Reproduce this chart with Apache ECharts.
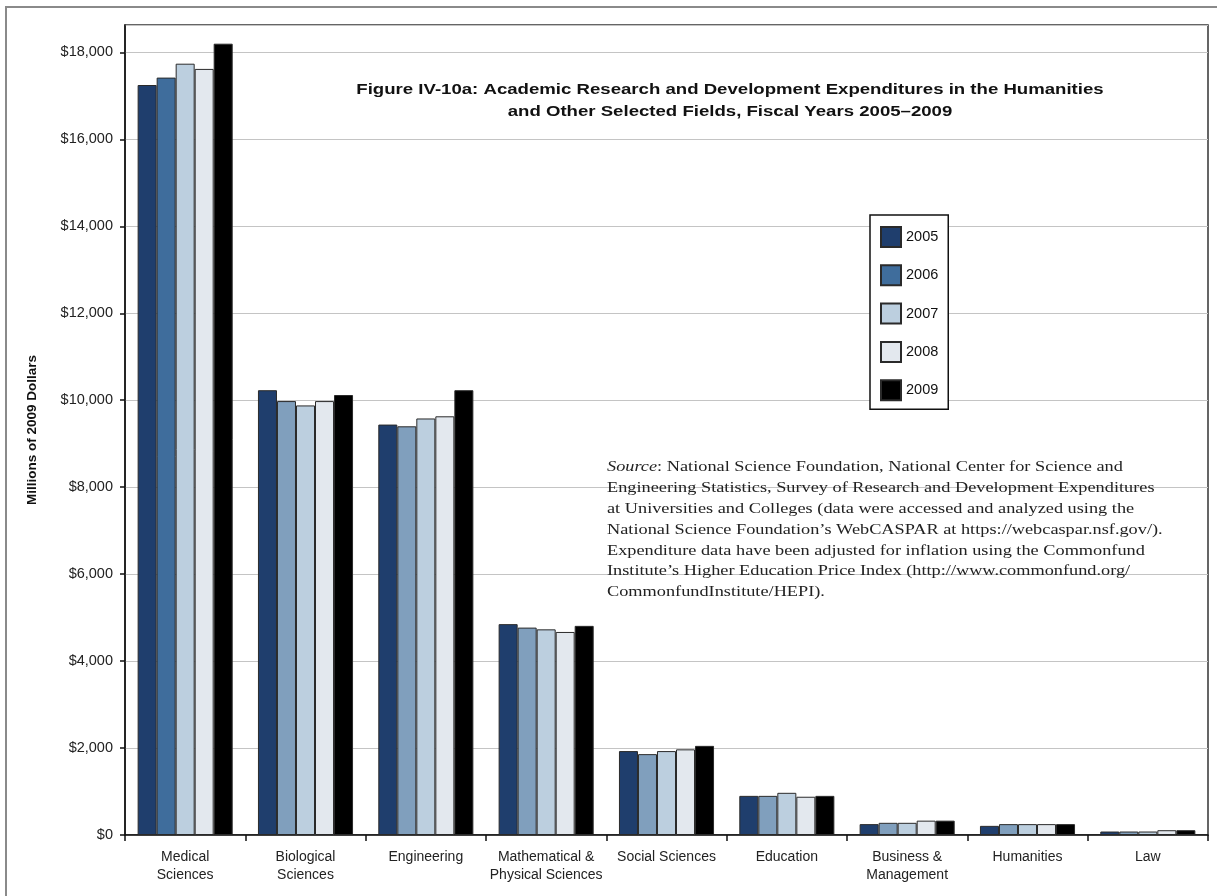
<!DOCTYPE html>
<html>
<head>
<meta charset="utf-8">
<script src="https://cdn.jsdelivr.net/npm/echarts@6/dist/echarts.min.js"></script>
<style>html,body{margin:0;padding:0;background:#fff;}#c{width:1217px;height:896px;}</style>
</head>
<body>
<div id="c"></div>
<script>
const categories = ['Medical\nSciences','Biological\nSciences','Engineering','Mathematical &\nPhysical Sciences','Social Sciences','Education','Business &\nManagement','Humanities','Law'];
const years = ['2005','2006','2007','2008','2009'];
const v2005 = [17250, 10230, 9440, 4850, 1930, 900, 250, 210, 80];
const v2006 = [17420, 9980, 9400, 4770, 1860, 900, 280, 250, 80];
const v2007 = [17740, 9880, 9580, 4730, 1930, 970, 280, 250, 80];
const v2008 = [17620, 9980, 9630, 4670, 1970, 880, 330, 250, 110];
const v2009 = [18200, 10120, 10230, 4810, 2050, 900, 330, 250, 110];
const colors = ['#1f3e6d', '#3f6d9c', '#bccfdf', '#e3e8ee', '#000000'];
const otherColor2006 = '#809fbd';

const seriesData = [v2005, v2006, v2007, v2008, v2009];
const series = seriesData.map((d, i) => ({
  name: years[i],
  type: 'bar',
  barGap: '0%',
  barCategoryGap: '21%',
  itemStyle: { color: colors[i], borderColor: '#2a2a2a', borderWidth: 1 },
  data: i === 1 ? d.map((v, j) => j === 0 ? v : { value: v, itemStyle: { color: otherColor2006 } }) : d
}));

const chart = echarts.init(document.getElementById('c'));
chart.setOption({
  animation: false,
  backgroundColor: '#fff',
  grid: { left: 125, right: 9, top: 25, bottom: 61, show: true, borderColor: '#333', borderWidth: 1.5, containLabel: false },
  legend: {
    orient: 'vertical', left: 870, top: 215,
    itemWidth: 20, itemHeight: 20, itemGap: 16.3,
    padding: [11, 10, 8, 10],
    borderColor: '#111', borderWidth: 1.5,
    backgroundColor: '#fff',
    textStyle: { fontFamily: 'Liberation Sans, Arial', fontSize: 14.5, color: '#111' },
    data: years.map(y => ({ name: y, icon: 'rect' }))
  },
  xAxis: {
    type: 'category', data: categories,
    axisLine: { lineStyle: { color: '#111', width: 1.5 } },
    axisTick: { show: true, length: 6, lineStyle: { color: '#111', width: 1.5 } },
    axisLabel: { fontFamily: 'Liberation Sans, Arial', fontSize: 14, color: '#222', lineHeight: 18, margin: 13, interval: 0 }
  },
  yAxis: {
    type: 'value', min: 0, max: 18630, interval: 2000,
    name: 'Millions of 2009 Dollars', nameLocation: 'middle', nameGap: 86, nameRotate: 90,
    nameTextStyle: { fontFamily: 'Liberation Sans, Arial', fontSize: 13.5, fontWeight: 'bold', color: '#111' },
    axisLine: { show: true, lineStyle: { color: '#111', width: 1.5 } },
    axisTick: { show: true, length: 5, lineStyle: { color: '#111', width: 1.5 } },
    axisLabel: { showMaxLabel: false, fontFamily: 'Liberation Sans, Arial', fontSize: 14.5, color: '#222', margin: 12,
      formatter: v => '$' + v.toLocaleString('en-US') },
    splitLine: { lineStyle: { color: '#c4c4c4', width: 1.2 } }
  },
  series: series,
  graphic: [
    { type: 'rect', silent: true, z: -1, shape: { x: 6, y: 7, width: 1230, height: 900 }, style: { fill: 'none', stroke: '#8a8a8a', lineWidth: 2 } },
    { type: 'text', x: 730, y: 79, scaleX: 1.2, z: 10,
      style: { text: 'Figure IV-10a: Academic Research and Development Expenditures in the Humanities\nand Other Selected Fields, Fiscal Years 2005\u20132009',
        x: 0, y: 0, align: 'center', verticalAlign: 'top', fontFamily: 'Liberation Sans, Arial', fontWeight: 'bold', fontSize: 15.5, lineHeight: 22, fill: '#111' } },
    { type: 'text', x: 607, y: 457, scaleX: 1.18, z: 10,
      style: {
        text: '{i|Source}: National Science Foundation, National Center for Science and\nEngineering Statistics, Survey of Research and Development Expenditures\nat Universities and Colleges (data were accessed and analyzed using the\nNational Science Foundation\u2019s WebCASPAR at https://webcaspar.nsf.gov/).\nExpenditure data have been adjusted for inflation using the Commonfund\nInstitute\u2019s Higher Education Price Index (http://www.commonfund.org/\nCommonfundInstitute/HEPI).',
        x: 0, y: 0, fontFamily: 'Liberation Serif, DejaVu Serif, serif', fontSize: 15.5, lineHeight: 20.8, fill: '#222',
        rich: { i: { fontStyle: 'italic', fontFamily: 'Liberation Serif, serif', fontSize: 15.5, lineHeight: 20.8, fill: '#222' } }
      } }
  ]
});
</script>
</body>
</html>
